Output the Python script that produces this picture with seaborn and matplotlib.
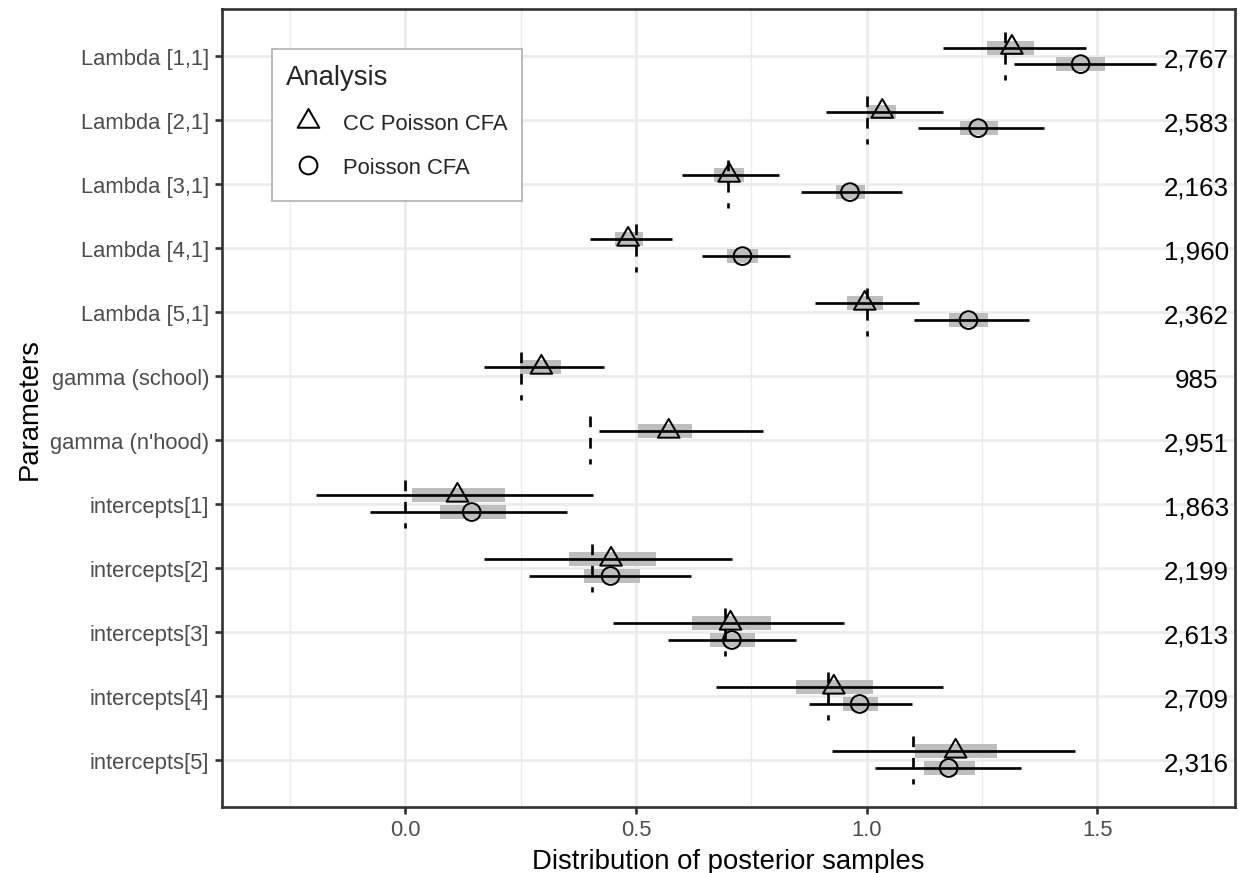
import numpy as np
import pandas as pd
import matplotlib
matplotlib.use("Agg")
import matplotlib.pyplot as plt
import matplotlib.transforms as mtransforms
from matplotlib.path import Path
from matplotlib.patches import Rectangle
import seaborn as sns
from matplotlib.lines import Line2D

# ---------------- data ----------------
params = ["Lambda [1,1]", "Lambda [2,1]", "Lambda [3,1]", "Lambda [4,1]", "Lambda [5,1]",
          "gamma (school)", "gamma (n'hood)",
          "intercepts[1]", "intercepts[2]", "intercepts[3]", "intercepts[4]", "intercepts[5]"]

analysis_names = ["CC Poisson CFA", "Poisson CFA"]

# CC Poisson CFA
cc_est  = [1.315, 1.034, 0.702, 0.483, 0.996, 0.295, 0.571, 0.113, 0.446, 0.705, 0.929, 1.193]
cc_lo95 = [1.166, 0.913, 0.599, 0.401, 0.888, 0.171, 0.421, -0.194, 0.171, 0.450, 0.673, 0.925]
cc_hi95 = [1.475, 1.166, 0.811, 0.578, 1.113, 0.431, 0.775, 0.406, 0.709, 0.952, 1.165, 1.452]
cc_lo50 = [1.262, 1.000, 0.670, 0.455, 0.958, 0.249, 0.505, 0.014, 0.355, 0.621, 0.846, 1.106]
cc_hi50 = [1.362, 1.063, 0.734, 0.516, 1.035, 0.338, 0.622, 0.217, 0.544, 0.793, 1.013, 1.282]

# Poisson CFA (no gamma parameters)
pc_est  = [1.464, 1.242, 0.964, 0.731, 1.221, np.nan, np.nan, 0.144, 0.445, 0.708, 0.985, 1.178]
pc_lo95 = [1.320, 1.112, 0.857, 0.643, 1.102, np.nan, np.nan, -0.077, 0.269, 0.569, 0.876, 1.018]
pc_hi95 = [1.628, 1.385, 1.077, 0.834, 1.351, np.nan, np.nan, 0.351, 0.620, 0.848, 1.098, 1.334]
pc_lo50 = [1.411, 1.203, 0.933, 0.697, 1.179, np.nan, np.nan, 0.076, 0.387, 0.660, 0.948, 1.124]
pc_hi50 = [1.517, 1.285, 0.996, 0.764, 1.264, np.nan, np.nan, 0.218, 0.508, 0.758, 1.025, 1.236]

true_vals = [1.30, 1.00, 0.70, 0.50, 1.00, 0.25, 0.40, 0.00, 0.405, 0.692, 0.916, 1.10]

ess_labels = ["2,767", "2,583", "2,163", "1,960", "2,362", "985", "2,951",
              "1,863", "2,199", "2,613", "2,709", "2,316"]

x_ticks = [0.0, 0.5, 1.0, 1.5]
x_tick_labels = ["0.0", "0.5", "1.0", "1.5"]

# ---------------- layout / style ----------------
DPI = 180
W, H = 1238, 874
dodge = {"CC Poisson CFA": -0.13, "Poisson CFA": 0.13}
tri = Path([(0.0, 1.0), (-0.866, -0.5), (0.866, -0.5), (0.0, 1.0)], closed=True)
marker_map = {"CC Poisson CFA": tri, "Poisson CFA": "o"}
size_map = {"CC Poisson CFA": 100, "Poisson CFA": 50}
ESS_X = 1.715

series = {
    "CC Poisson CFA": (cc_est, cc_lo95, cc_hi95, cc_lo50, cc_hi50),
    "Poisson CFA": (pc_est, pc_lo95, pc_hi95, pc_lo50, pc_hi50),
}
rows = []
for a in analysis_names:
    est, lo95, hi95, lo50, hi50 = series[a]
    for i, p in enumerate(params):
        if np.isnan(est[i]):
            continue
        rows.append(dict(Parameter=p, Analysis=a, idx=i, ypos=i + dodge[a],
                         est=est[i], lo95=lo95[i], hi95=hi95[i], lo50=lo50[i], hi50=hi50[i]))
df = pd.DataFrame(rows)

sns.set_theme(style="whitegrid")
plt.rcParams["font.family"] = ["Liberation Sans", "DejaVu Sans"]

fig = plt.figure(figsize=(W / DPI, H / DPI), dpi=DPI)
left_px, right_px, top_px, bottom_px = 221.7, 1234.7, 9.5, 808.0
ax = fig.add_axes([left_px / W, 1 - bottom_px / H, (right_px - left_px) / W, (bottom_px - top_px) / H])
ax.set_facecolor("white")

# 50% intervals (grey bars)
ax.hlines(df["ypos"], df["lo50"], df["hi50"], color="#BEBEBE", lw=5.6, capstyle="butt", zorder=2)
# 95% intervals
ax.hlines(df["ypos"], df["lo95"], df["hi95"], color="black", lw=1.07, capstyle="butt", zorder=3)
# true values
idx = np.arange(len(params))
ax.vlines(true_vals, idx - 0.375, idx + 0.375, color="black", lw=1.07,
          linestyles=[(0, (4, 4))], zorder=3)

# point estimates
sns.scatterplot(data=df, x="est", y="ypos", style="Analysis", markers=marker_map,
                size="Analysis", sizes=size_map, color="black", facecolor="none",
                edgecolor="black", linewidth=0.8, legend=False, ax=ax, zorder=4)
for coll in ax.collections[-1:]:
    coll.set_facecolor("none")
    coll.set_edgecolor("black")

# ESS labels
txt_tr = mtransforms.offset_copy(ax.transData, fig=fig, x=0, y=-11.0 * 72 / DPI, units="points")
for i, lab in enumerate(ess_labels):
    ax.text(ESS_X, i, lab, ha="center", va="baseline", fontsize=10.4, color="black",
            zorder=5, transform=txt_tr)

# axes
ax.set_xlim(-0.398, 1.798)
ax.set_ylim(11.74, -0.74)
ax.set_yticks(idx)
ax.set_yticklabels(params)
ax.set_xticks(x_ticks)
ax.set_xticklabels(x_tick_labels)
ax.set_xticks([-0.25, 0.25, 0.75, 1.25, 1.75], minor=True)

ax.grid(False)
ax.set_axisbelow(True)
ax.grid(True, which="major", axis="both", color="#EBEBEB", lw=1.07)
ax.grid(True, which="minor", axis="x", color="#EBEBEB", lw=0.53)

for s in ax.spines.values():
    s.set_visible(True)
    s.set_color("#333333")
    s.set_linewidth(1.07)
    s.set_zorder(6)

ax.tick_params(axis="both", which="major", bottom=True, left=True, length=2.74, width=1.07,
               color="#333333", labelcolor="#4D4D4D", labelsize=8.8, pad=2.2)
ax.tick_params(axis="both", which="minor", length=0)

ax.set_xlabel("Distribution of posterior samples", fontsize=11, color="black", labelpad=3)
ax.set_ylabel("Parameters", fontsize=11, color="black", labelpad=3)

# legend box
box = Rectangle((271.7 / W, 1 - 202 / H), 250 / W, 152 / H, transform=fig.transFigure,
                facecolor="white", edgecolor="#B3B3B3", linewidth=0.7, zorder=6.5)
ax.add_artist(box)
box.set_clip_on(False)

handles = [
    Line2D([], [], linestyle="none", marker=tri, markersize=10, markerfacecolor="none",
           markeredgecolor="black", markeredgewidth=0.8),
    Line2D([], [], linestyle="none", marker="o", markersize=7.1, markerfacecolor="none",
           markeredgecolor="black", markeredgewidth=0.8),
]
leg = ax.legend(handles, analysis_names, title="Analysis", loc="upper left",
                bbox_to_anchor=(272.7 / W, 1 - 52 / H), bbox_transform=fig.transFigure,
                borderaxespad=0, fontsize=8.8, title_fontsize=11, frameon=False,
                borderpad=0.6, handlelength=2.0, handletextpad=0.6, labelspacing=1.04,
                alignment="left")
leg.set_zorder(7)

fig.savefig("out.png", dpi=DPI)
